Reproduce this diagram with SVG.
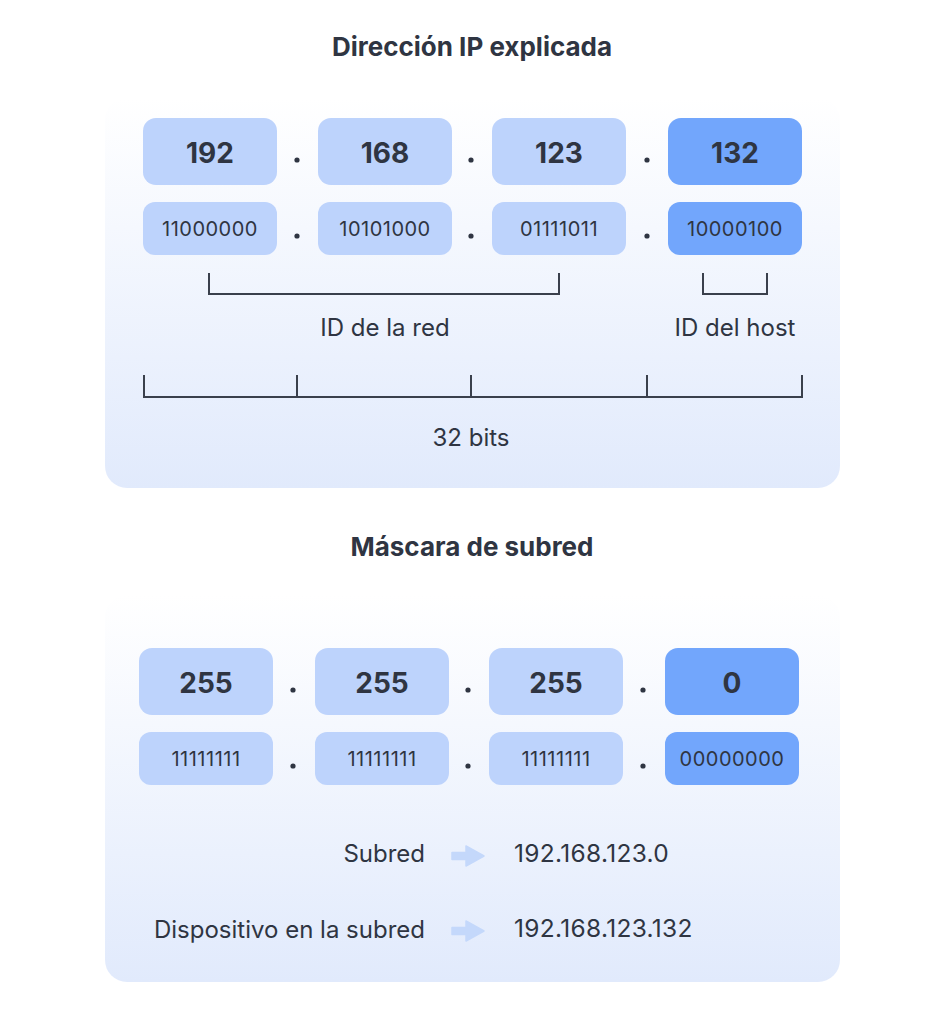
<svg xmlns="http://www.w3.org/2000/svg" width="945" height="1024" viewBox="0 0 945 1024">
<defs>
<linearGradient id="pg" x1="0" y1="0" x2="0" y2="1">
<stop offset="0" stop-color="#ffffff"/>
<stop offset="1" stop-color="#e1eafc"/>
</linearGradient>
<style>
.t{font-family:"Inter","Liberation Sans",sans-serif;fill:#2f3542}
.title{font-size:26px;font-weight:700;text-anchor:middle}
.num{font-size:28px;font-weight:700;text-anchor:middle}
.bin{font-size:20px;letter-spacing:0.5px;text-anchor:middle}
.lbl{font-size:24px;text-anchor:middle}
.ipv{font-size:24.5px;letter-spacing:0.3px}
.lt{fill:#bdd3fc}
.dk{fill:#72a6fc}
.dot{fill:#2f3542}
.br{fill:none;stroke:#3a404c;stroke-width:2}
.arr{fill:#c4d8fb;stroke:#c4d8fb;stroke-width:1.5;stroke-linejoin:round}
</style>
</defs>
<rect width="945" height="1024" fill="#ffffff"/>
<g id="panel-ip">
<rect x="105" y="98" width="735" height="390" rx="22" fill="url(#pg)"/>
<text class="t title" x="472" y="56">Dirección IP explicada</text>
</g>
<g id="panel-mask">
<rect x="105" y="595" width="735" height="387" rx="22" fill="url(#pg)"/>
<text class="t title" x="472" y="556">Máscara de subred</text>
</g>
<g id="ip-octet-1">
<rect class="lt" x="143" y="118" width="134" height="67" rx="13"/>
<text class="t num" x="210" y="163">192</text>
<rect class="lt" x="143" y="202" width="134" height="53" rx="12"/>
<text class="t bin" x="210" y="236">11000000</text>
</g>
<g id="ip-octet-2">
<rect class="lt" x="318" y="118" width="134" height="67" rx="13"/>
<text class="t num" x="385" y="163">168</text>
<rect class="lt" x="318" y="202" width="134" height="53" rx="12"/>
<text class="t bin" x="385" y="236">10101000</text>
</g>
<g id="ip-octet-3">
<rect class="lt" x="492" y="118" width="134" height="67" rx="13"/>
<text class="t num" x="559" y="163">123</text>
<rect class="lt" x="492" y="202" width="134" height="53" rx="12"/>
<text class="t bin" x="559" y="236">01111011</text>
</g>
<g id="ip-octet-4">
<rect class="dk" x="668" y="118" width="134" height="67" rx="13"/>
<text class="t num" x="735" y="163">132</text>
<rect class="dk" x="668" y="202" width="134" height="53" rx="12"/>
<text class="t bin" x="735" y="236">10000100</text>
</g>
<g id="ip-dots">
<circle class="dot" cx="297" cy="160" r="2.6"/>
<circle class="dot" cx="471" cy="160" r="2.6"/>
<circle class="dot" cx="647" cy="160" r="2.6"/>
<circle class="dot" cx="297" cy="236" r="2.6"/>
<circle class="dot" cx="471" cy="236" r="2.6"/>
<circle class="dot" cx="647" cy="236" r="2.6"/>
</g>
<g id="connectors">
<path class="br" d="M209 273V294H559V273"/>
<path class="br" d="M703 273V294H767V273"/>
<path class="br" d="M144 375V397H802V375M297 375V397M471 375V397M647 375V397"/>
</g>
<g id="labels">
<text class="t lbl" x="385" y="336">ID de la red</text>
<text class="t lbl" x="735" y="336">ID del host</text>
<text class="t lbl" x="471" y="446">32 bits</text>
</g>
<g id="mask-octet-1">
<rect class="lt" x="139" y="648" width="134" height="67" rx="13"/>
<text class="t num" x="206" y="693">255</text>
<rect class="lt" x="139" y="732" width="134" height="53" rx="12"/>
<text class="t bin" x="206" y="766">11111111</text>
</g>
<g id="mask-octet-2">
<rect class="lt" x="315" y="648" width="134" height="67" rx="13"/>
<text class="t num" x="382" y="693">255</text>
<rect class="lt" x="315" y="732" width="134" height="53" rx="12"/>
<text class="t bin" x="382" y="766">11111111</text>
</g>
<g id="mask-octet-3">
<rect class="lt" x="489" y="648" width="134" height="67" rx="13"/>
<text class="t num" x="556" y="693">255</text>
<rect class="lt" x="489" y="732" width="134" height="53" rx="12"/>
<text class="t bin" x="556" y="766">11111111</text>
</g>
<g id="mask-octet-4">
<rect class="dk" x="665" y="648" width="134" height="67" rx="13"/>
<text class="t num" x="732" y="693">0</text>
<rect class="dk" x="665" y="732" width="134" height="53" rx="12"/>
<text class="t bin" x="732" y="766">00000000</text>
</g>
<g id="mask-dots">
<circle class="dot" cx="293" cy="690" r="2.6"/>
<circle class="dot" cx="468" cy="690" r="2.6"/>
<circle class="dot" cx="643" cy="690" r="2.6"/>
<circle class="dot" cx="293" cy="766" r="2.6"/>
<circle class="dot" cx="468" cy="766" r="2.6"/>
<circle class="dot" cx="643" cy="766" r="2.6"/>
</g>
<g id="result-subred">
<text class="t lbl" x="425" y="862" style="text-anchor:end">Subred</text>
<path class="arr" d="M452 852.5H466V846L484 856L466 866V859.5H452Z"/>
<text class="t ipv" x="514" y="862">192.168.123.0</text>
</g>
<g id="result-device">
<text class="t lbl" x="425" y="938" style="text-anchor:end">Dispositivo en la subred</text>
<path class="arr" d="M452 927.5H466V921L484 931L466 941V934.5H452Z"/>
<text class="t ipv" x="514" y="937">192.168.123.132</text>
</g>
</svg>
